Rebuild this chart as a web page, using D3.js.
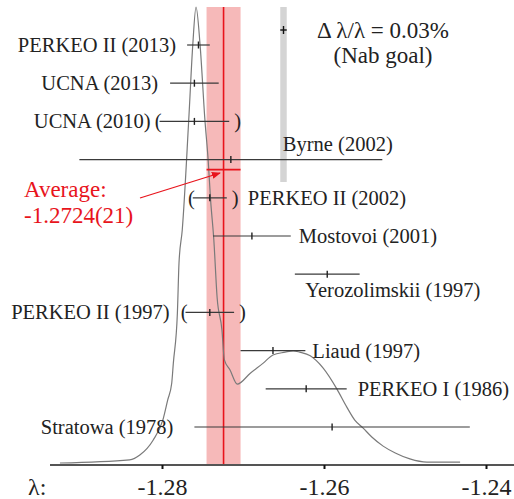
<!DOCTYPE html>
<html>
<head>
<meta charset="utf-8">
<script src="https://cdn.jsdelivr.net/npm/d3@7"></script>
<style>
	body { margin: 0; background: #fff; }
	text { font-family: "Liberation Serif", "Times New Roman", serif; fill: #222; }
</style>
</head>
<body>
<svg id="chart" width="514" height="499"></svg>
<script>
// measurements of lambda = gA/gV
let names = ["PERKEO II (2013)", "UCNA (2013)", "UCNA (2010)", "Byrne (2002)", "PERKEO II (2002)",
	"Mostovoi (2001)", "Yerozolimskii (1997)", "PERKEO II (1997)", "Liaud (1997)",
	"PERKEO I (1986)", "Stratowa (1978)"];
let values = [-1.2755, -1.2760, -1.2760, -1.2715, -1.2741, -1.2689, -1.2596, -1.2741, -1.2663, -1.2622, -1.2590];
let errors = [0.0014, 0.0030, 0.0043, 0.0187, 0.0021, 0.0048, 0.0040, 0.0030, 0.0040, 0.0050, 0.0170];
let excluded = [false, false, true, false, true, false, false, true, false, false, false];

let avgValue = -1.2724;
let avgError = 0.0021;
let nabValue = -1.2650;
let nabError = 0.0004;

// ideogram curve
let curveLambda = [-1.2926, -1.2840, -1.2827, -1.2811, -1.2799, -1.2793, -1.2788, -1.2786, -1.2781, -1.2779,
	-1.2775, -1.2767, -1.2762, -1.2758, -1.2753, -1.2747, -1.2743, -1.2740, -1.2736, -1.2732,
	-1.2726, -1.2723, -1.2716, -1.2707, -1.2691, -1.2675, -1.2663, -1.2648, -1.2638, -1.2630,
	-1.2617, -1.2601, -1.2584, -1.2572, -1.2562, -1.2552, -1.2541, -1.2527, -1.2512, -1.2494,
	-1.2473, -1.2432];
let curveDensity = [0.000, 0.007, 0.018, 0.050, 0.094, 0.138, 0.175, 0.219, 0.329, 0.439,
	0.511, 0.752, 0.917, 1.000, 0.917, 0.752, 0.664, 0.577, 0.489, 0.364,
	0.292, 0.226, 0.204, 0.173, 0.197, 0.219, 0.237, 0.243, 0.246, 0.243,
	0.235, 0.208, 0.162, 0.123, 0.094, 0.077, 0.057, 0.037, 0.022, 0.009,
	0.002, 0.002];

let tickValues = [-1.28, -1.26, -1.24];

// where each name goes relative to its bar
let labelPlace = [
	{anchor: "end", at: "lo", dx: -11, dy: 7},
	{anchor: "end", at: "lo", dx: -12, dy: 7},
	{anchor: "end", at: "lo", dx: -9, dy: 7},
	{anchor: "start", at: "mid", dx: 52, dy: -9},
	{anchor: "start", at: "hi", dx: 21, dy: 7},
	{anchor: "start", at: "hi", dx: 8, dy: 7},
	{anchor: "start", at: "mid", dx: -22, dy: 23},
	{anchor: "end", at: "lo", dx: -16, dy: 7},
	{anchor: "start", at: "hi", dx: 7, dy: 7},
	{anchor: "start", at: "hi", dx: 11, dy: 7},
	{anchor: "end", at: "lo", dx: -21, dy: 7}
];

let axisY = 465;
let topY = 7;

let x = d3.scaleLinear().domain([-1.28, -1.24]).range([162, 486]);
let yRow = d3.scaleLinear().domain([0, names.length - 1]).range([45, 427]);
let yCurve = d3.scaleLinear().domain([0, 1]).range([463, topY]);

let svg = d3.select("#chart");

let rows = names.map((n, i) => ({name: n, v: values[i], e: errors[i], ex: excluded[i], i: i, place: labelPlace[i]}));

// average band + Nab goal band
svg.append("rect")
	.attr("x", x(avgValue - avgError))
	.attr("y", topY)
	.attr("width", x(avgValue + avgError) - x(avgValue - avgError))
	.attr("height", axisY - topY)
	.attr("fill", "#f6b9b9");

svg.append("rect")
	.attr("x", x(nabValue - nabError))
	.attr("y", topY)
	.attr("width", x(nabValue + nabError) - x(nabValue - nabError))
	.attr("height", 175)
	.attr("fill", "#d4d4d4");

svg.append("line")
	.attr("x1", x(avgValue)).attr("x2", x(avgValue))
	.attr("y1", topY).attr("y2", axisY)
	.attr("stroke", "#e8141c")
	.attr("stroke-width", 1.6);

// ideogram
let line = d3.line()
	.x((d, i) => x(curveLambda[i]))
	.y(d => yCurve(d))
	.curve(d3.curveMonotoneX);

svg.append("path")
	.attr("d", line(curveDensity))
	.attr("fill", "none")
	.attr("stroke", "#7a7a7a")
	.attr("stroke-width", 1.2);

// error bars
let bars = svg.selectAll("g.bar")
	.data(rows)
	.join("g")
		.attr("class", "bar")
		.attr("transform", d => `translate(0,${yRow(d.i)})`);

bars.append("line")
	.attr("x1", d => x(d.v - d.e))
	.attr("x2", d => x(d.v + d.e))
	.attr("stroke", "#3a3a3a")
	.attr("stroke-width", 1.2);

bars.append("line")
	.attr("x1", d => x(d.v)).attr("x2", d => x(d.v))
	.attr("y1", -3.5).attr("y2", 3.5)
	.attr("stroke", "#222")
	.attr("stroke-width", 1.4);

function labelX(d) {
	let p = d.place;
	let base = p.at == "lo" ? x(d.v - d.e) : p.at == "hi" ? x(d.v + d.e) : x(d.v);
	return base + p.dx;
}

bars.append("text")
	.attr("x", labelX)
	.attr("y", d => d.place.dy)
	.attr("text-anchor", d => d.place.anchor)
	.style("font-size", "20.5px")
	.text(d => d.name);

let br = bars.filter(d => d.ex);
br.append("text")
	.attr("x", d => x(d.v - d.e) + 2)
	.attr("y", 7)
	.attr("text-anchor", "end")
	.style("font-size", "20.5px")
	.text("(");
br.append("text")
	.attr("x", d => x(d.v + d.e) + 5)
	.attr("y", 7)
	.style("font-size", "20.5px")
	.text(")");

// average error bar
let avgY = yRow(3) + 10;
svg.append("line")
	.attr("x1", x(avgValue - avgError)).attr("x2", x(avgValue + avgError))
	.attr("y1", avgY).attr("y2", avgY)
	.attr("stroke", "#e8141c")
	.attr("stroke-width", 1.6);

// Nab goal marker
let nabY = 30;
svg.append("line")
	.attr("x1", x(nabValue - nabError)).attr("x2", x(nabValue + nabError))
	.attr("y1", nabY).attr("y2", nabY)
	.attr("stroke", "#111").attr("stroke-width", 1.4);
svg.append("line")
	.attr("x1", x(nabValue)).attr("x2", x(nabValue))
	.attr("y1", nabY - 4).attr("y2", nabY + 4)
	.attr("stroke", "#111").attr("stroke-width", 1.4);

svg.append("text")
	.attr("x", 383).attr("y", 38)
	.attr("text-anchor", "middle")
	.style("font-size", "23px")
	.text("\u0394 \u03bb/\u03bb = 0.03%");
svg.append("text")
	.attr("x", 383).attr("y", 63)
	.attr("text-anchor", "middle")
	.style("font-size", "23px")
	.text("(Nab goal)");

// average annotation
svg.append("defs").html(`
	<marker id="arrowhead" viewBox="0 0 10 10" refX="9" refY="5"
		markerWidth="9" markerHeight="9" orient="auto" markerUnits="userSpaceOnUse">
		<path d="M0,1 L10,5 L0,9 z" fill="#e8141c"/>
	</marker>`);

svg.append("line")
	.attr("x1", 140).attr("y1", 198)
	.attr("x2", 220).attr("y2", 173)
	.attr("stroke", "#e8141c")
	.attr("stroke-width", 1.3)
	.attr("marker-end", "url(#arrowhead)");

svg.append("text")
	.attr("x", 24).attr("y", 197)
	.style("font-size", "23px")
	.style("fill", "#e8141c")
	.text("Average:");
svg.append("text")
	.attr("x", 24).attr("y", 223)
	.style("font-size", "23px")
	.style("fill", "#e8141c")
	.text(`${avgValue.toFixed(4)}(${Math.round(avgError * 10000)})`);

// axis
svg.append("line")
	.attr("x1", 50).attr("x2", 514)
	.attr("y1", axisY).attr("y2", axisY)
	.attr("stroke", "#555")
	.attr("stroke-width", 2);

let axis = d3.axisBottom(x)
	.tickValues(tickValues)
	.tickSize(4)
	.tickPadding(8)
	.tickFormat(d => d.toFixed(2));

let gAxis = svg.append("g")
	.attr("transform", `translate(0,${axisY})`)
	.call(axis);
gAxis.select(".domain").remove();
gAxis.selectAll(".tick line").attr("stroke", "#111").attr("stroke-width", 2);
gAxis.selectAll(".tick text")
	.attr("dy", null)
	.attr("y", 30)
	.style("font-size", "24px")
	.style("font-family", "'Liberation Serif', serif")
	.attr("fill", "#222");

svg.append("text")
	.attr("x", 28).attr("y", 495)
	.style("font-size", "24px")
	.text("\u03bb:");
</script>
</body>
</html>
